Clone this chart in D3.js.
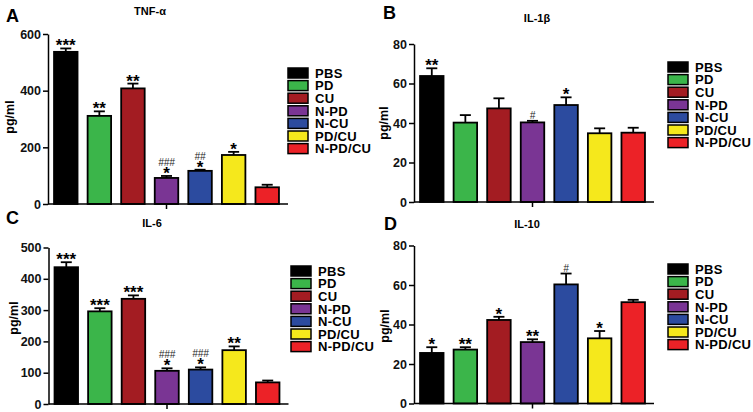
<!DOCTYPE html>
<html lang="en">
<head>
<meta charset="UTF-8">
<title>Cytokine levels</title>
<script src="https://cdn.jsdelivr.net/npm/d3@7"></script>
<style>
  body { margin: 0; background: #fff; }
  svg { font-family: "Liberation Sans", Arial, sans-serif; }
  .tick text { font-size: 12.5px; font-weight: bold; fill: #111; }
  .domain, .tick line { stroke: #000; stroke-width: 1.5px; }
</style>
</head>
<body>
<div id="container"></div>
<script>
// groups and colours
var groups = ["PBS", "PD", "CU", "N-PD", "N-CU", "PD/CU", "N-PD/CU"];
var colors = ["#000000", "#3bb54a", "#a31c22", "#7a3594", "#2c4b9f", "#f5e81c", "#ec2227"];

// TNF-alpha
var tnfMean = [537, 311, 408, 92, 117, 173, 59];
var tnfErr = [12, 16, 17, 7, 4, 11, 9];
var tnfStars = ["***", "**", "**", "*", "*", "*", ""];
var tnfHash = ["", "", "", "###", "##", "", ""];
var tnfTicks = [0, 200, 400, 600];

// IL-1beta
var il1bMean = [63.8, 40.2, 47.4, 40.3, 49.1, 34.8, 35.1];
var il1bErr = [3.9, 3.8, 5.1, 0.8, 3.9, 2.5, 2.5];
var il1bStars = ["**", "", "", "", "*", "", ""];
var il1bHash = ["", "", "", "#", "", "", ""];
var il1bTicks = [0, 20, 40, 60, 80];

// IL-6
var il6Mean = [437, 296, 336, 106, 110, 172, 69];
var il6Err = [16, 10, 11, 8, 7, 12, 6];
var il6Stars = ["***", "***", "***", "*", "*", "**", ""];
var il6Hash = ["", "", "", "###", "###", "", ""];
var il6Ticks = [0, 100, 200, 300, 400, 500];

// IL-10
var il10Mean = [25.6, 27.3, 42.3, 31.1, 60.3, 33.0, 51.3];
var il10Err = [2.9, 1.2, 1.6, 1.4, 5.5, 3.7, 1.2];
var il10Stars = ["*", "**", "*", "**", "", "*", ""];
var il10Hash = ["", "", "", "", "#", "", ""];
var il10Ticks = [0, 20, 40, 60, 80];

var svg = d3.select("#container").append("svg")
    .attr("width", 753)
    .attr("height", 412);

// panel layout
var panels = [
    { letter: "A", title: "TNF-\u03b1", mean: tnfMean, err: tnfErr, stars: tnfStars, hash: tnfHash, ticks: tnfTicks,
      ax: 48, yBot: 204, yTop: 34, letterPos: [6, 22], titlePos: [150, 15], ylab: [10, 117], legend: [288, 73] },
    { letter: "B", title: "IL-1\u03b2", mean: il1bMean, err: il1bErr, stars: il1bStars, hash: il1bHash, ticks: il1bTicks,
      ax: 414, yBot: 202, yTop: 44, letterPos: [383, 19], titlePos: [537, 22], ylab: [384, 123], legend: [668, 67] },
    { letter: "C", title: "IL-6", mean: il6Mean, err: il6Err, stars: il6Stars, hash: il6Hash, ticks: il6Ticks,
      ax: 48.5, yBot: 404, yTop: 247.5, letterPos: [6, 224], titlePos: [152, 227], ylab: [14, 318], legend: [291, 271] },
    { letter: "D", title: "IL-10", mean: il10Mean, err: il10Err, stars: il10Stars, hash: il10Hash, ticks: il10Ticks,
      ax: 414, yBot: 403.5, yTop: 245.5, letterPos: [384, 230], titlePos: [527, 228], ylab: [385, 326], legend: [668, 269] }
];

panels.forEach(function (p) {
    var g = svg.append("g");

    var x = d3.scaleBand().domain(groups).range([p.ax + 1, p.ax + 236])
        .paddingInner(0.3).paddingOuter(0.15);
    var y = d3.scaleLinear().domain([0, d3.max(p.ticks)]).range([p.yBot, p.yTop]);

    var data = groups.map(function (name, i) {
        return { name: name, mean: p.mean[i], err: p.err[i], color: colors[i], stars: p.stars[i], hash: p.hash[i] };
    });

    // bars
    g.selectAll("rect.bar")
        .data(data)
        .enter().append("rect")
        .attr("class", "bar")
        .attr("x", d => x(d.name))
        .attr("y", d => y(d.mean))
        .attr("width", x.bandwidth())
        .attr("height", d => y(0) - y(d.mean))
        .attr("fill", d => d.color)
        .attr("stroke", "#000")
        .attr("stroke-width", 1.8);

    // error bars
    var cx = d => x(d.name) + x.bandwidth() / 2;
    g.selectAll("line.err")
        .data(data)
        .enter().append("line")
        .attr("x1", cx).attr("x2", cx)
        .attr("y1", d => y(d.mean))
        .attr("y2", d => y(d.mean + d.err))
        .attr("stroke", "#000").attr("stroke-width", 1.8);
    g.selectAll("line.cap")
        .data(data)
        .enter().append("line")
        .attr("x1", d => cx(d) - 5.5).attr("x2", d => cx(d) + 5.5)
        .attr("y1", d => y(d.mean + d.err))
        .attr("y2", d => y(d.mean + d.err))
        .attr("stroke", "#000").attr("stroke-width", 1.8);

    // significance marks
    g.selectAll("text.star")
        .data(data.filter(d => d.stars))
        .enter().append("text")
        .attr("x", cx)
        .attr("y", d => y(d.mean + d.err) + 3)
        .attr("text-anchor", "middle")
        .style("font-size", "17px")
        .style("font-weight", "bold")
        .text(d => d.stars);
    g.selectAll("text.hash")
        .data(data.filter(d => d.hash))
        .enter().append("text")
        .attr("x", cx)
        .attr("y", d => y(d.mean + d.err) - (d.stars ? 10 : 2))
        .attr("text-anchor", "middle")
        .style("font-size", "10px")
        .style("font-style", "italic")
        .attr("fill", "#222")
        .text(d => d.hash);

    // axes
    g.append("g")
        .attr("transform", "translate(" + p.ax + ",0)")
        .call(d3.axisLeft(y).tickValues(p.ticks).tickSize(5).tickSizeOuter(0).tickPadding(2));

    var xEnd = p.ax + 240;
    g.append("line")
        .attr("x1", p.ax).attr("x2", xEnd)
        .attr("y1", p.yBot).attr("y2", p.yBot)
        .attr("stroke", "#000").attr("stroke-width", 1.5);
    var mid = x(groups[3]) + x.bandwidth() / 2;
    g.append("line")
        .attr("x1", mid).attr("x2", mid)
        .attr("y1", p.yBot).attr("y2", p.yBot + 5)
        .attr("stroke", "#000").attr("stroke-width", 1.5);

    // labels
    g.append("text")
        .attr("x", p.letterPos[0]).attr("y", p.letterPos[1])
        .style("font-size", "18px").style("font-weight", "bold")
        .text(p.letter);
    g.append("text")
        .attr("x", p.titlePos[0]).attr("y", p.titlePos[1])
        .attr("text-anchor", "middle")
        .style("font-size", "11px").style("font-weight", "bold")
        .text(p.title);
    g.append("text")
        .attr("transform", "translate(" + p.ylab[0] + "," + p.ylab[1] + ") rotate(-90)")
        .attr("text-anchor", "middle")
        .attr("dy", "0.35em")
        .style("font-size", "12.5px").style("font-weight", "bold")
        .text("pg/ml");

    // legend
    var legend = g.append("g")
        .attr("transform", "translate(" + p.legend[0] + "," + p.legend[1] + ")");
    legend.selectAll("rect")
        .data(data)
        .enter().append("rect")
        .attr("x", 0)
        .attr("y", (d, i) => i * 12.6 - 5)
        .attr("width", 20)
        .attr("height", 10)
        .attr("fill", d => d.color)
        .attr("stroke", "#000")
        .attr("stroke-width", 1.5);
    legend.selectAll("text")
        .data(data)
        .enter().append("text")
        .attr("x", 27)
        .attr("y", (d, i) => i * 12.6 + 4.8)
        .style("font-size", "13px")
        .style("font-weight", "bold")
        .style("letter-spacing", "0.3px")
        .text(d => d.name);
});
</script>
</body>
</html>
